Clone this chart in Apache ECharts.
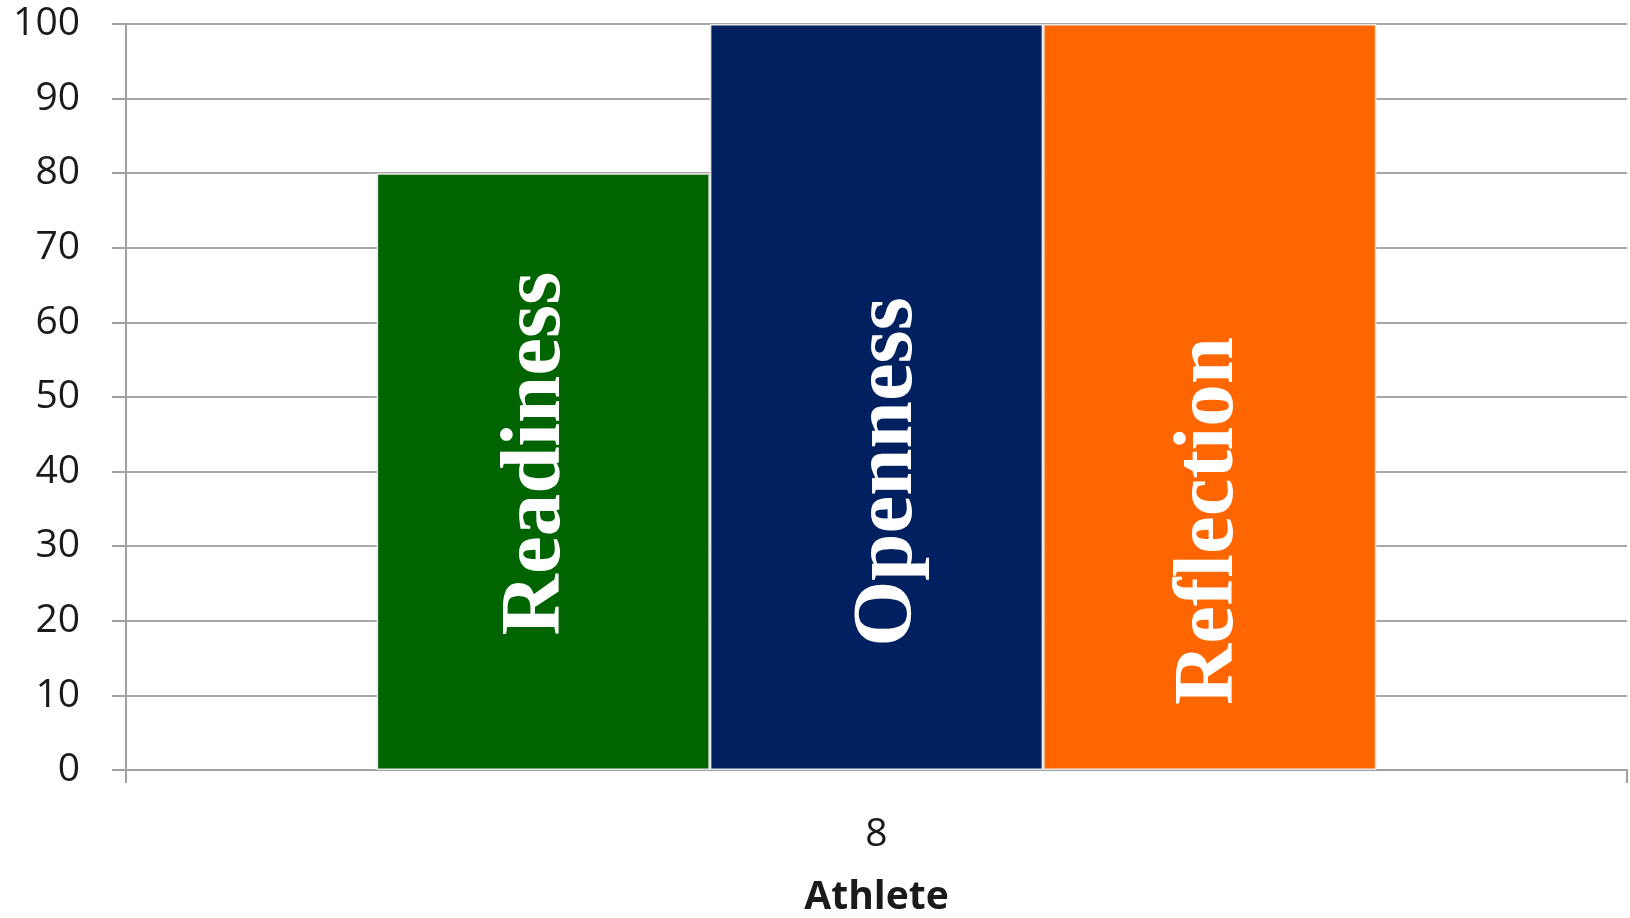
<!DOCTYPE html>
<html>
<head>
<meta charset="utf-8">
<script src="https://cdn.jsdelivr.net/npm/echarts@6/dist/echarts.min.js"></script>
<style>
html,body{margin:0;padding:0;background:#fff;}
#chart{width:1630px;height:918px;}
</style>
</head>
<body>
<div id="chart"></div>
<script>
const categories = ['8'];
const seriesNames = ['Readiness', 'Openness', 'Reflection'];
const readinessValues = [80];
const opennessValues = [100];
const reflectionValues = [100];
const yTicks = [0, 10, 20, 30, 40, 50, 60, 70, 80, 90, 100];
const xAxisName = 'Athlete';

const colors = ['#006400', '#002060', '#FF6600'];
const labelOffsets = [[18, -6], [-75, 13], [-124, 0]];
const valuesList = [readinessValues, opennessValues, reflectionValues];

const chart = echarts.init(document.getElementById('chart'));
const series = seriesNames.map((name, i) => ({
  name: name,
  type: 'bar',
  data: valuesList[i],
  barGap: '0%',
  barCategoryGap: '33.4%',
  itemStyle: { color: colors[i], borderColor: '#e8e8e8', borderWidth: 1.5 },
  label: {
    show: true,
    position: 'inside',
    rotate: 90,
    offset: labelOffsets[i],
    formatter: name,
    color: '#ffffff',
    fontFamily: '"Liberation Serif", "Times New Roman", serif',
    fontWeight: 'bold',
    fontSize: 85
  }
}));

chart.setOption({
  animation: false,
  backgroundColor: '#ffffff',
  grid: { left: 126, right: 3, top: 24, bottom: 148, containLabel: false, outerBoundsMode: 'none' },
  xAxis: {
    type: 'category',
    data: categories,
    name: xAxisName,
    nameLocation: 'middle',
    nameGap: 108,
    nameTextStyle: { fontFamily: '"Open Sans", sans-serif', fontWeight: 'bold', fontSize: 39, color: '#1a1a1a' },
    axisLine: { show: true, lineStyle: { color: '#a0a0a0', width: 2 } },
    axisTick: { show: true, length: 13, lineStyle: { color: '#a0a0a0', width: 2 } },
    axisLabel: { margin: 45, fontFamily: '"Open Sans", sans-serif', fontSize: 39, color: '#1a1a1a' }
  },
  yAxis: {
    type: 'value',
    min: yTicks[0],
    max: yTicks[yTicks.length - 1],
    interval: yTicks[1] - yTicks[0],
    axisLine: { show: true, lineStyle: { color: '#a0a0a0', width: 2 } },
    axisTick: { show: true, length: 14, lineStyle: { color: '#a0a0a0', width: 2 } },
    splitLine: { show: true, lineStyle: { color: '#a8a8a8', width: 2 } },
    axisLabel: { margin: 46, fontFamily: '"Open Sans", sans-serif', fontSize: 39, color: '#1a1a1a' }
  },
  series: series
});
</script>
</body>
</html>
